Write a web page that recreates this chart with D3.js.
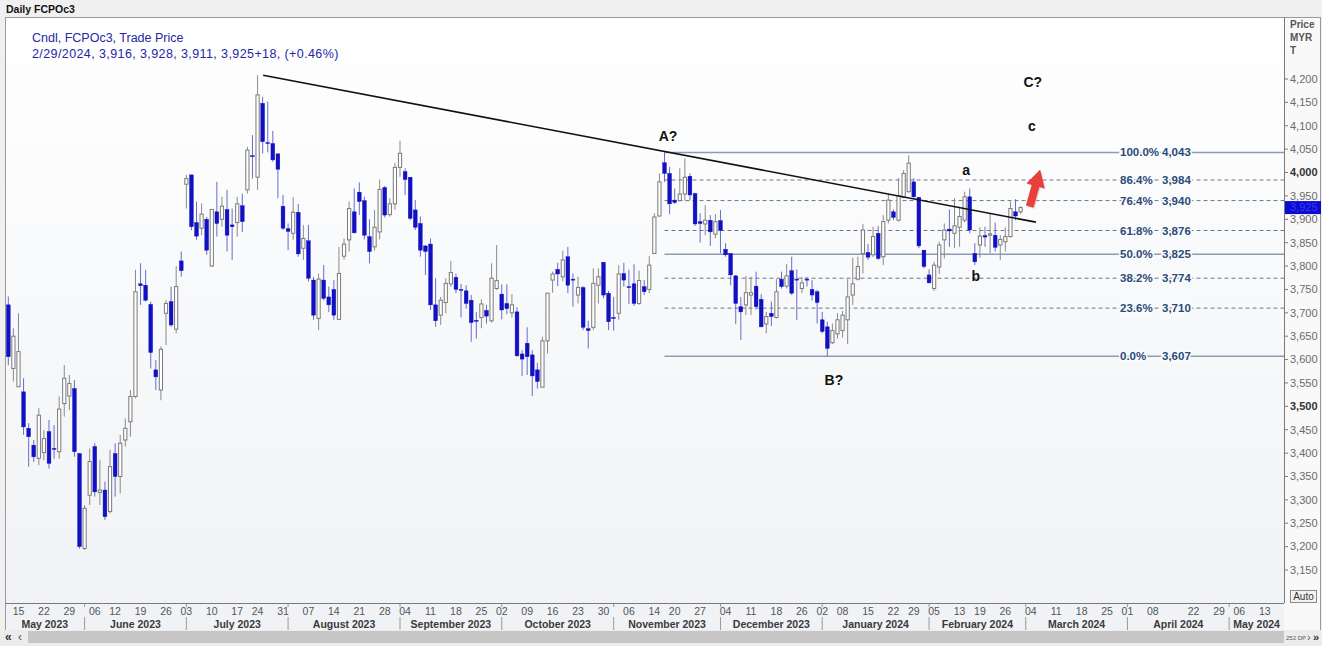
<!DOCTYPE html>
<html><head><meta charset="utf-8">
<script src="https://cdn.jsdelivr.net/npm/d3@7"></script>
<style>
html,body{margin:0;padding:0;background:#f0f0f0;overflow:hidden;}
svg{display:block;font-family:"Liberation Sans",Arial,sans-serif;}
</style></head><body>
<svg id="c" width="1322" height="646"></svg>
<script>
// ---------------- DATA ----------------
const opens = [3717,3581,3542,3531,3453,3417,3389,3401,3446,3410,
3403,3506,3522,3538,3399,3196,3310,3414,3316,3321,
3275,3399,3350,3428,3467,3521,3762,3759,3718,3578,
3535,3699,3724,3665,3811,3975,3995,3893,3881,3900,
3800,3916,3900,3921,3888,3893,3929,3963,4036,3990,
4148,4064,4062,4040,3928,3880,3870,3915,3838,3854,
3770,3688,3770,3734,3750,3686,3821,3856,3916,3958,
3940,3863,3841,3873,3968,3910,3933,4011,4002,3990,
3920,3891,3843,3847,3717,3695,3722,3762,3776,3750,
3747,3727,3684,3690,3705,3683,3752,3740,3720,3700,
3702,3612,3635,3610,3578,3541,3640,3770,3793,3777,
3820,3772,3738,3754,3666,3669,3759,3808,3742,3690,
3699,3784,3756,3762,3720,3756,3750,3827,3907,4021,
3998,3941,3940,3954,3992,3955,3895,3890,3898,3868,
3897,3836,3827,3779,3713,3717,3738,3757,3729,3676,
3699,3690,3772,3757,3790,3772,3752,3772,3750,3745,
3685,3670,3636,3655,3662,3685,3738,3772,3827,3829,
3824,3870,3820,3898,3916,3898,3947,3959,3980,3947,
3834,3781,3752,3798,3856,3879,3870,3883,3898,3948,
3827,3845,3865,3866,3866,3845,3852,3863,3916,3916];
const highs = [3735,3667,3699,3560,3464,3428,3496,3449,3471,3460,
3521,3588,3567,3556,3400,3289,3410,3421,3385,3339,
3407,3421,3439,3474,3535,3792,3806,3792,3724,3599,
3628,3727,3756,3800,3831,3995,3995,3938,3934,3905,
3921,3980,3948,3963,3923,3948,3955,4055,4080,4208,
4162,4152,4089,4040,3952,3891,3947,3933,3888,3888,
3777,3784,3802,3756,3770,3841,3859,3938,3966,3979,
3948,3900,3920,3985,3971,3945,4021,4068,4009,3990,
3941,3906,3845,3859,3774,3734,3774,3811,3784,3762,
3759,3738,3702,3729,3717,3806,3845,3761,3761,3740,
3712,3620,3669,3620,3593,3649,3742,3788,3807,3833,
3841,3784,3777,3757,3683,3795,3795,3809,3747,3734,
3802,3807,3792,3804,3790,3770,3821,3913,3998,4043,
4012,3966,4009,4030,3998,3957,3913,3930,3909,3911,
3920,3849,3827,3781,3734,3779,3777,3788,3740,3702,
3724,3772,3788,3804,3820,3793,3777,3777,3770,3749,
3702,3681,3677,3699,3704,3772,3818,3820,3890,3847,
3884,3886,3909,3955,3921,3988,4005,4037,3988,3947,
3834,3793,3809,3852,3891,3921,3945,3927,3959,3966,
3849,3883,3884,3912,3893,3866,3883,3938,3943,3928];
const lows = [3588,3553,3542,3439,3371,3381,3374,3385,3367,3388,
3388,3478,3492,3392,3196,3193,3289,3307,3289,3257,
3271,3307,3314,3414,3435,3517,3717,3724,3581,3535,
3513,3631,3670,3656,3777,3923,3877,3856,3866,3824,
3798,3863,3884,3831,3813,3863,3873,3955,3987,3963,
4041,4043,4023,3945,3877,3834,3856,3820,3813,3767,
3685,3663,3727,3702,3685,3685,3814,3831,3870,3909,
3857,3806,3833,3857,3904,3906,3920,3991,3952,3898,
3877,3820,3781,3706,3670,3674,3699,3756,3742,3690,
3709,3638,3645,3667,3677,3679,3749,3686,3697,3690,
3606,3565,3567,3522,3538,3541,3613,3743,3757,3767,
3742,3713,3720,3663,3624,3663,3720,3731,3663,3662,
3685,3756,3719,3715,3717,3738,3742,3826,3906,3980,
3911,3933,3938,3940,3941,3886,3850,3866,3843,3859,
3827,3820,3759,3676,3642,3695,3695,3707,3669,3656,
3672,3688,3752,3752,3738,3685,3742,3756,3726,3677,
3656,3607,3633,3645,3647,3633,3717,3769,3784,3813,
3819,3813,3802,3891,3898,3895,3945,3957,3945,3838,
3795,3763,3747,3783,3816,3841,3838,3841,3893,3870,
3802,3818,3841,3827,3831,3813,3831,3861,3898,3911];
const closes = [3606,3650,3617,3456,3435,3392,3481,3431,3378,3408,
3494,3560,3549,3403,3200,3282,3382,3317,3321,3264,
3371,3350,3421,3453,3521,3745,3758,3727,3615,3563,
3622,3720,3674,3756,3790,3987,3884,3864,3911,3834,
3921,3891,3928,3866,3884,3933,3895,4048,4034,4166,
4066,4063,4027,4007,3881,3874,3915,3826,3859,3774,
3695,3772,3731,3717,3695,3784,3847,3923,3871,3938,
3866,3831,3883,3964,3909,3933,4011,4041,3985,3902,
3883,3834,3831,3717,3683,3727,3763,3786,3750,3748,
3720,3679,3682,3719,3693,3774,3769,3706,3709,3717,
3608,3601,3606,3565,3553,3640,3742,3783,3783,3813,
3759,3771,3754,3669,3662,3763,3777,3738,3681,3688,
3783,3770,3754,3720,3769,3745,3802,3905,3980,3998,
3933,3936,3954,3990,3952,3890,3891,3898,3873,3895,
3876,3824,3781,3720,3702,3743,3743,3713,3670,3692,
3692,3745,3756,3779,3742,3770,3764,3770,3738,3722,
3660,3624,3662,3685,3695,3734,3762,3799,3877,3819,
3863,3816,3895,3941,3904,3950,3998,4020,3948,3843,
3799,3764,3802,3845,3877,3875,3886,3906,3948,3877,
3809,3864,3862,3869,3840,3857,3863,3923,3907,3925];

// trading calendar (Bursa Malaysia) — visible slots
const firstDay = "2023-05-11";
const slotCount = 252;
const holidays = ["2023-06-05","2023-06-29","2023-07-19","2023-08-31","2023-09-28",
"2023-11-13","2023-12-25","2024-01-01","2024-01-25","2024-02-01","2024-02-12",
"2024-03-28","2024-04-10","2024-04-11","2024-05-01"];
const tickDates = ["2023-05-15","2023-05-22","2023-05-29","2023-06-06","2023-06-12","2023-06-19",
"2023-06-26","2023-07-03","2023-07-10","2023-07-17","2023-07-24","2023-07-31","2023-08-07",
"2023-08-14","2023-08-21","2023-08-28","2023-09-04","2023-09-11","2023-09-18","2023-09-25",
"2023-10-02","2023-10-09","2023-10-16","2023-10-23","2023-10-30","2023-11-06","2023-11-14",
"2023-11-20","2023-11-27","2023-12-04","2023-12-11","2023-12-18","2023-12-26","2024-01-02",
"2024-01-08","2024-01-15","2024-01-22","2024-01-29","2024-02-05","2024-02-13","2024-02-19",
"2024-02-26","2024-03-04","2024-03-11","2024-03-18","2024-03-25","2024-04-01","2024-04-08",
"2024-04-22","2024-04-29","2024-05-06","2024-05-13"];
const priceTicks = [3150,3200,3250,3300,3350,3400,3450,3500,3550,3600,3650,3700,3750,3800,
3850,3900,3950,4000,4050,4100,4150,4200];
const boldTicks = [3500,4000];

// Fibonacci retracement (A? high -> B? low)
const fibLabels = ["0.0%","23.6%","38.2%","50.0%","61.8%","76.4%","86.4%","100.0%"];
const fibValues = [3607,3710,3774,3825,3876,3940,3984,4043];
const fibSolid = [true,false,false,true,false,false,false,true];
const fibStartSlot = 129;

// trend line (slot index, price)
const trendSlots = [50.1, 202.0];
const trendPrices = [4208, 3894];

// wave annotations
const waveLabels = ["A?","B?","C?","c","a","b"];
const waveSlots = [129.7,162.3,201.4,201.2,188.3,190.2];
const wavePrices = [4078,3556,4194,4099,4005,3779];

// arrow: base -> tip (slot, price)
const arrowSlots = [200.8, 202.8];
const arrowPrices = [3928, 4005];

const lastPrice = 3925;

// ---------------- LAYOUT ----------------
const W = 1322, H = 646;
const plotL = 5, plotR = 1284, plotT = 17, plotB = 603;
const svg = d3.select("#c");
const fmtKey = d3.utcFormat("%Y-%m-%d");
const parse = d3.utcParse("%Y-%m-%d");

const hol = new Set(holidays);
const dates = d3.utcDay.range(parse(firstDay), d3.utcDay.offset(parse(firstDay), 400))
  .filter(d => d.getUTCDay() !== 0 && d.getUTCDay() !== 6 && !hol.has(fmtKey(d)))
  .slice(0, slotCount);
const keys = dates.map(fmtKey);

const x = d3.scaleBand().domain(keys).range([5.76, 5.76 + slotCount * 5.087]).padding(0);
const xc = k => x(k) + x.bandwidth() / 2;
const xs = s => x.range()[0] + (s + 0.5) * x.step();
const y = d3.scaleLinear().domain([3150, 4200]).range([570, 79]);

// defs
const defs = svg.append("defs");
const g1 = defs.append("linearGradient").attr("id","bg").attr("x1",0).attr("x2",0).attr("y1",0).attr("y2",1);
g1.append("stop").attr("offset","0%").attr("stop-color","#ffffff");
g1.append("stop").attr("offset","100%").attr("stop-color","#f0f2f5");
defs.append("clipPath").attr("id","clip").append("rect")
  .attr("x",plotL).attr("y",plotT).attr("width",plotR-plotL).attr("height",plotB-plotT);

// backgrounds
svg.append("rect").attr("x",0).attr("y",0).attr("width",W).attr("height",H).attr("fill","#f0f0f0");
svg.append("rect").attr("x",plotL).attr("y",plotT).attr("width",W-plotL-1).attr("height",plotB-plotT+27)
  .attr("fill","url(#bg)");
svg.append("rect").attr("x",plotR).attr("y",plotT).attr("width",W-plotR-1).attr("height",plotB-plotT+27)
  .attr("fill","#f9f9f9");
svg.append("rect").attr("x",plotL+0.5).attr("y",plotT+0.5).attr("width",W-plotL-2).attr("height",plotB-plotT+27)
  .attr("fill","none").attr("stroke","#9a9a9a");

// header
svg.append("text").attr("x",6).attr("y",13).attr("font-size",10.5).attr("font-weight","bold")
  .attr("fill","#111").text("Daily FCPOc3");
svg.append("text").attr("x",32).attr("y",42).attr("font-size",12.5).attr("fill","#2427a6")
  .text("Cndl, FCPOc3, Trade Price");
svg.append("text").attr("x",32).attr("y",58).attr("font-size",12.5).attr("letter-spacing",0.4).attr("fill","#2427a6")
  .text("2/29/2024, 3,916, 3,928, 3,911, 3,925+18, (+0.46%)");

// plot group
const plot = svg.append("g").attr("clip-path","url(#clip)");

// fib lines
const fx0 = xc(keys[fibStartSlot]);
fibValues.forEach((v,i) => {
  plot.append("line").attr("x1",fx0).attr("x2",plotR).attr("y1",y(v)).attr("y2",y(v))
    .attr("stroke", fibSolid[i] ? "#8d9bb0" : "#6f7787")
    .attr("stroke-width", fibSolid[i] ? 1.5 : 1)
    .attr("stroke-dasharray", fibSolid[i] ? null : "4,3");
});

// candles
const cg = plot.append("g");
opens.forEach((o,i) => {
  const c = closes[i], h = highs[i], l = lows[i], k = keys[i];
  const up = c >= o;
  const cx = xc(k);
  cg.append("line").attr("x1",cx).attr("x2",cx).attr("y1",y(h)).attr("y2",y(l))
    .attr("stroke", up ? "#8a8a8a" : "#6a6acc").attr("stroke-width",1);
  const top = y(Math.max(o,c)), bot = y(Math.min(o,c));
  const hgt = Math.max(1, bot - top);
  if (up) {
    cg.append("rect").attr("x",cx-1.6).attr("y",top).attr("width",3.2).attr("height",hgt)
      .attr("fill","#ffffff").attr("stroke","#7a7a7a").attr("stroke-width",1);
  } else {
    cg.append("rect").attr("x",cx-1.9).attr("y",top).attr("width",3.8).attr("height",hgt)
      .attr("fill","#1111c2").attr("stroke","#1111c2").attr("stroke-width",0.4);
  }
});

// trend line
plot.append("line")
  .attr("x1",xs(trendSlots[0])).attr("y1",y(trendPrices[0]))
  .attr("x2",xs(trendSlots[1])).attr("y2",y(trendPrices[1]))
  .attr("stroke","#111").attr("stroke-width",1.6);

// fib labels
fibValues.forEach((v,i) => {
  const t = plot.append("g").attr("font-size",11.5).attr("font-weight","bold").attr("fill","#2b4a78")
    .attr("stroke","#fbfcfd").attr("stroke-width",3).attr("paint-order","stroke");
  t.append("text").attr("x",1120).attr("y",y(v)).attr("dy","0.35em").text(fibLabels[i]);
  t.append("text").attr("x",1162).attr("y",y(v)).attr("dy","0.35em").text(d3.format(",")(v));
});

// wave labels
waveLabels.forEach((s,i) => {
  plot.append("text").attr("x",xs(waveSlots[i])).attr("y",y(wavePrices[i])).attr("dy","0.36em")
    .attr("text-anchor","middle").attr("font-size",14).attr("font-weight","bold").attr("fill","#111")
    .text(s);
});

// red arrow
(function(){
  const bx = xs(arrowSlots[0]), by = y(arrowPrices[0]);
  const tx = xs(arrowSlots[1]), ty = y(arrowPrices[1]);
  const dx = tx-bx, dy = ty-by, len = Math.hypot(dx,dy);
  const ux = dx/len, uy = dy/len, nx = -uy, ny = ux;
  const headL = 16, sw = 3.6, hw = 9;
  const hx = tx - ux*headL, hy = ty - uy*headL;
  const pts = [[bx+nx*sw,by+ny*sw],[hx+nx*sw,hy+ny*sw],[hx+nx*hw,hy+ny*hw],[tx,ty],
               [hx-nx*hw,hy-ny*hw],[hx-nx*sw,hy-ny*sw],[bx-nx*sw,by-ny*sw]];
  plot.append("polygon").attr("points",pts.map(p=>p.join(",")).join(" "))
    .attr("transform","translate(1.5,1.5)").attr("fill","#e9b0b0").attr("opacity",0.6);
  plot.append("polygon").attr("points",pts.map(p=>p.join(",")).join(" "))
    .attr("fill","#ea3f3b").attr("stroke","#d03030").attr("stroke-width",0.6);
})();

// price axis
const ya = svg.append("g");
ya.append("line").attr("x1",plotR+0.5).attr("x2",plotR+0.5).attr("y1",plotT).attr("y2",plotB)
  .attr("stroke","#7a7a7a");
priceTicks.forEach(v => {
  ya.append("line").attr("x1",plotR).attr("x2",plotR+4).attr("y1",y(v)).attr("y2",y(v)).attr("stroke","#7a7a7a");
  const b = boldTicks.includes(v);
  ya.append("text").attr("x",plotR+6).attr("y",y(v)).attr("dy","0.35em").attr("font-size",11)
    .attr("font-weight", b ? "bold" : null).attr("fill", b ? "#333" : "#6a6a6a")
    .text(d3.format(",")(v));
});
["Price","MYR","T"].forEach((s,i) => {
  ya.append("text").attr("x",plotR+6).attr("y",28+i*13).attr("font-size",10).attr("font-weight","bold")
    .attr("fill","#555").text(s);
});
ya.append("rect").attr("x",plotR+1).attr("y",y(lastPrice)-6.5).attr("width",W-plotR-2).attr("height",13)
  .attr("fill","#0b0bd0");
ya.append("text").attr("x",plotR+6).attr("y",y(lastPrice)).attr("dy","0.35em").attr("font-size",11)
  .attr("fill","#3a3af0").text(d3.format(",")(lastPrice));
ya.append("rect").attr("x",plotR+6.5).attr("y",590.5).attr("width",26).attr("height",12)
  .attr("fill","#f3f3f3").attr("stroke","#8a8a8a");
ya.append("text").attr("x",plotR+19.5).attr("y",600).attr("text-anchor","middle").attr("font-size",10)
  .attr("fill","#333").text("Auto");

// date axis
const xa = svg.append("g");
xa.append("line").attr("x1",plotL).attr("x2",plotR).attr("y1",plotB+0.5).attr("y2",plotB+0.5).attr("stroke","#7a7a7a");
tickDates.forEach(t => {
  const k = t;
  if (x(k) === undefined) return;
  xa.append("text").attr("x",xc(k)).attr("y",615).attr("text-anchor","middle").attr("font-size",10.5)
    .attr("fill","#555").text(d3.utcFormat("%d")(parse(k)));
});
// months
const monthStarts = [];
dates.forEach((d,i) => { if (i === 0 || d.getUTCMonth() !== dates[i-1].getUTCMonth()) monthStarts.push(i); });
monthStarts.forEach((si,j) => {
  const xm = si === 0 ? plotL : xc(keys[si]);
  const xe = j+1 < monthStarts.length ? xc(keys[monthStarts[j+1]]) : plotR;
  if (si !== 0) {
    xa.append("line").attr("x1",xm).attr("x2",xm).attr("y1",617).attr("y2",630).attr("stroke","#9a9a9a");
    xa.append("line").attr("x1",xm).attr("x2",xm).attr("y1",604).attr("y2",607).attr("stroke","#9a9a9a");
  }
  xa.append("text").attr("x",(xm+xe)/2).attr("y",628).attr("text-anchor","middle").attr("font-size",10.5)
    .attr("font-weight","bold").attr("fill","#3a3a3a").text(d3.utcFormat("%B %Y")(dates[si]));
});

// scrollbar row
const sb = svg.append("g");
sb.append("rect").attr("x",0).attr("y",630).attr("width",W).attr("height",16).attr("fill","#ececec");
sb.append("rect").attr("x",28).attr("y",631).attr("width",1256).attr("height",12).attr("fill","#c6c6c6");
sb.append("text").attr("x",5).attr("y",641).attr("font-size",12).attr("font-weight","bold").attr("fill","#333").text("«");
sb.append("text").attr("x",18).attr("y",641).attr("font-size",12).attr("fill","#555").text("‹");
sb.append("text").attr("x",1286).attr("y",640).attr("font-size",6).attr("fill","#555").text("252 DP");
sb.append("text").attr("x",1307).attr("y",641).attr("font-size",11).attr("fill","#555").text("›");
sb.append("text").attr("x",1313).attr("y",641).attr("font-size",11).attr("font-weight","bold").attr("fill","#333").text("»");
</script>
</body></html>
